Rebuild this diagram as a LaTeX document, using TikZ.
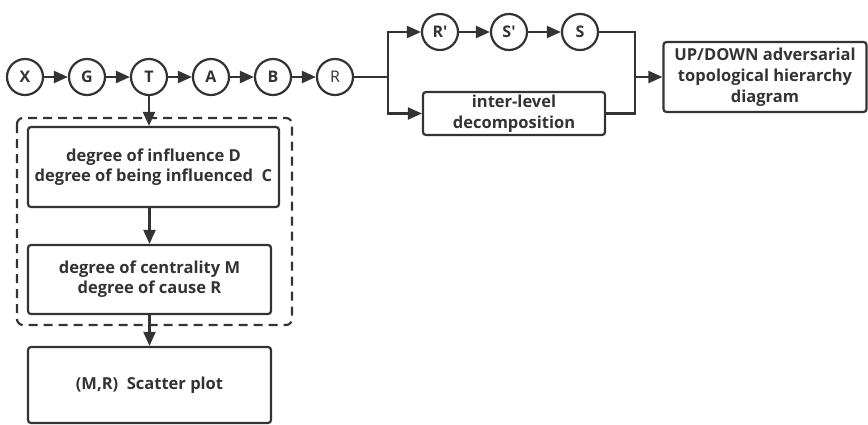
\documentclass[tikz,border=0pt]{standalone}
\usepackage{fontspec}
\setmainfont{Open Sans}
\usetikzlibrary{arrows.meta}
\definecolor{ink}{HTML}{333333}
\newcommand{\sq}{\XeTeXglyph\XeTeXcharglyph"0027\relax}
\begin{document}
\begin{tikzpicture}[x=1pt,y=-1pt,
  every node/.style={text=ink},
  circ/.style={circle,draw=ink,line width=2.2pt,minimum size=36pt,inner sep=0pt,font=\bfseries\fontsize{16}{18}\selectfont},
  rbox/.style={draw=ink,line width=2.2pt,rounded corners=3pt,align=center,font=\bfseries\fontsize{16.5}{21}\selectfont},
  conn/.style={draw=ink,line width=2.2pt},
  arr/.style={conn,-{Triangle[length=14pt,width=12pt]}},
  dashbox/.style={draw=ink,line width=2.2pt,dash pattern=on 9pt off 6pt,rounded corners=6pt}]
\useasboundingbox (0,0) rectangle (868,424);
% chain
\node[circ] (X) at (25,77) {X};
\node[circ] (G) at (87,77) {G};
\node[circ] (T) at (149,77) {T};
\node[circ] (A) at (211,77) {A};
\node[circ] (B) at (273,77) {B};
\node[circ,font=\fontsize{16}{18}\selectfont] (R) at (335,77) {R};
\foreach \a/\b in {X/G,G/T,T/A,A/B,B/R} \draw[arr] (\a) -- (\b);
% branch
\coordinate (br) at (388,77);
\node[circ] (Rp) at (440,32) {R\sq};
\node[circ] (Sp) at (509,32) {S\sq};
\node[circ] (S) at (580,32) {S};
\node[rbox,minimum width=182pt,minimum height=43pt,inner sep=1pt] (IL) at (514,113.5) {inter-level\\decomposition};
\node[rbox,minimum width=203pt,minimum height=70pt,inner sep=1pt] (UD) at (765,77) {UP/DOWN adversarial\\topological hierarchy\\diagram};
\draw[conn] (R) -- (br);
\draw[arr] (br) |- (Rp);
\draw[arr] (br) |- (IL);
\draw[arr] (Rp) -- (Sp);
\draw[arr] (Sp) -- (S);
\coordinate (jn) at (635,77);
\draw[conn] (S) -| (jn);
\draw[conn] (IL) -| (jn);
\draw[arr] (jn) -- (UD);
% left column
\draw[dashbox] (17,118) rectangle (292,325);
\node[rbox,minimum width=251pt,minimum height=80pt,inner sep=1pt,font=\bfseries\fontsize{16.5}{20}\selectfont] (D1) at (153.5,167) {degree of influence D\\degree of being influenced\ \ C};
\node[rbox,minimum width=243pt,minimum height=69pt,inner sep=1pt,font=\bfseries\fontsize{16.5}{20}\selectfont] (D2) at (149.5,279.5) {degree of centrality M\\degree of cause R};
\node[rbox,minimum width=243pt,minimum height=76pt,inner sep=1pt] (D3) at (149.5,385) {(M,R)\ \ Scatter plot};
\draw[arr] (T) -- (T |- D1.north);
\draw[arr] (D1.south -| D2) -- (D2);
\draw[arr] (D2) -- (D3);
\end{tikzpicture}
\end{document}
